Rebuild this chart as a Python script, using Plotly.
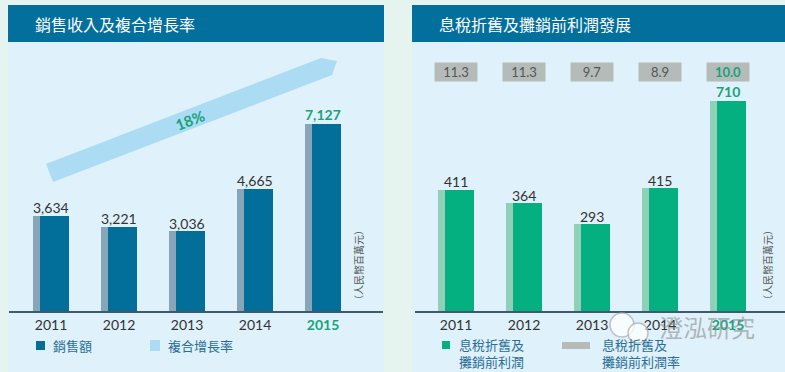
import plotly.graph_objects as go

years = ["2011", "2012", "2013", "2014", "2015"]
sales = [3634, 3221, 3036, 4665, 7127]
ebitda = [411, 364, 293, 415, 710]
ebitda_margin = [11.3, 11.3, 9.7, 8.9, 10.0]
cagr_label = "18%"

W, H = 785, 372
def px(x): return x / W
def py(y): return 1 - y / H

MINT = "#e6f4ef"
PANEL = "#dff1fa"
HEADER = "#036f9c"
BLUE = "#026e9a"
BLUE_SH = "#88a6b9"
GREEN = "#04b07f"
GREEN_SH = "#8fd0b9"
GTEXT = "#19a27b"
GRAYBOX = "#b4bbb8"
AXIS = "#3f5a6e"
LEG = "#2a6f97"
FONT = "Lato, Noto Sans CJK TC, sans-serif"
CJK = "Noto Sans CJK TC, sans-serif"

idx = list(range(len(years)))
ticktext = [y if i < len(years) - 1 else f"<b><span style='color:{GTEXT}'>{y}</span></b>" for i, y in enumerate(years)]

fig = go.Figure()
fig.add_bar(x=idx, y=sales, width=36/68, offset=-18/68, marker=dict(color=BLUE_SH, line_width=0),
            xaxis="x", yaxis="y", showlegend=False, hoverinfo="skip")
fig.add_bar(x=idx, y=sales, width=29/68, offset=-11/68, marker=dict(color=BLUE, line_width=0),
            xaxis="x", yaxis="y", showlegend=False)
fig.add_bar(x=idx, y=ebitda, width=36/68, offset=-18/68, marker=dict(color=GREEN_SH, line_width=0),
            xaxis="x2", yaxis="y2", showlegend=False, hoverinfo="skip")
fig.add_bar(x=idx, y=ebitda, width=29/68, offset=-11/68, marker=dict(color=GREEN, line_width=0),
            xaxis="x2", yaxis="y2", showlegend=False)

ydom = [py(311), py(55)]
axis_common = dict(type="linear", showgrid=False, zeroline=False, showline=True, linecolor=AXIS,
                   linewidth=2, tickvals=idx, ticktext=ticktext, ticks="",
                   tickfont=dict(family=FONT, size=14, color="#333"), fixedrange=True)
fig.update_layout(
    width=W, height=H, margin=dict(l=0, r=0, t=0, b=0),
    paper_bgcolor=MINT, plot_bgcolor="rgba(0,0,0,0)", barmode="overlay", bargap=0,
    xaxis=dict(domain=[px(9), px(383)], range=[(9-51)/68, (383-51)/68], anchor="y", **axis_common),
    xaxis2=dict(domain=[px(415), px(785)], range=[(415-456)/68, (785-456)/68], anchor="y2", **axis_common),
    yaxis=dict(domain=ydom, range=[0, 256/0.0262], visible=False, fixedrange=True),
    yaxis2=dict(domain=ydom, range=[0, 256/0.2955], visible=False, anchor="x2", fixedrange=True),
)

shapes = []
shapes.append(dict(type="rect", xref="paper", yref="paper", x0=px(8), x1=px(384), y0=py(372), y1=py(5),
                   fillcolor=PANEL, line_width=0, layer="below"))
shapes.append(dict(type="rect", xref="paper", yref="paper", x0=px(412), x1=px(785), y0=py(372), y1=py(5),
                   fillcolor=PANEL, line_width=0, layer="below"))
for a, b in [(8, 384), (412, 785)]:
    shapes.append(dict(type="rect", xref="paper", yref="paper", x0=px(a), x1=px(b), y0=py(42), y1=py(5),
                       fillcolor=HEADER, line_width=0, layer="below"))
pts = [(46, 164), (321, 58), (337, 61), (332, 75), (53, 182)]
path = "M " + " L ".join(f"{px(x):.5f},{py(y):.5f}" for x, y in pts) + " Z"
shapes.append(dict(type="path", xref="paper", yref="paper", path=path, fillcolor="#acdcf4",
                   line_width=0, layer="below"))
shapes.append(dict(type="rect", xref="paper", yref="paper", x0=px(36), x1=px(45), y0=py(350), y1=py(341),
                   fillcolor=BLUE, line_width=0))
shapes.append(dict(type="rect", xref="paper", yref="paper", x0=px(150), x1=px(160), y0=py(351), y1=py(340),
                   fillcolor="#acdcf4", line_width=0))
shapes.append(dict(type="rect", xref="paper", yref="paper", x0=px(442), x1=px(450), y0=py(349), y1=py(341),
                   fillcolor=GREEN, line_width=0))
shapes.append(dict(type="rect", xref="paper", yref="paper", x0=px(562), x1=px(590), y0=py(349), y1=py(342),
                   fillcolor=GRAYBOX, line_width=0))
for cx, cy, r in [(622, 325, 12), (638, 333, 10)]:
    shapes.append(dict(type="circle", xref="paper", yref="paper", x0=px(cx-r), x1=px(cx+r),
                       y0=py(cy+r), y1=py(cy-r), fillcolor="rgba(255,255,255,0.75)",
                       line=dict(color="rgba(170,170,170,0.7)", width=1.5)))
fig.update_layout(shapes=shapes)

def pann(text, x, y, size, color, family=CJK, xanchor="center", yanchor="middle", **kw):
    return dict(text=text, x=px(x), y=py(y), xref="paper", yref="paper", showarrow=False,
                xanchor=xanchor, yanchor=yanchor, font=dict(family=family, size=size, color=color), **kw)

ann = []
ann.append(pann("銷售收入及複合增長率", 33, 24, 16, "white", xanchor="left"))
ann.append(pann("息稅折舊及攤銷前利潤發展", 437, 24, 16, "white", xanchor="left"))
for i, v in enumerate(sales):
    last = i == len(sales) - 1
    ann.append(dict(x=i, y=v, xref="x", yref="y", text=(f"<b>{v:,}</b>" if last else f"{v:,}"),
                    showarrow=False, xanchor="center", yanchor="middle", yshift=10 if last else 8,
                    font=dict(family=FONT, size=14, color=GTEXT if last else "#333")))
for i, v in enumerate(ebitda):
    last = i == len(ebitda) - 1
    ann.append(dict(x=i, y=v, xref="x2", yref="y2", text=(f"<b>{v}</b>" if last else f"{v}"),
                    showarrow=False, xanchor="center", yanchor="middle", yshift=10 if last else 8,
                    font=dict(family=FONT, size=14, color=GTEXT if last else "#333")))
for i, m in enumerate(ebitda_margin):
    last = i == len(ebitda_margin) - 1
    ann.append(dict(x=i, y=py(72), xref="x2", yref="paper", text=(f"<b>{m:.1f}</b>" if last else f"{m:.1f}"),
                    showarrow=False, width=42, height=18, bgcolor=GRAYBOX, borderpad=0,
                    xanchor="center", yanchor="middle",
                    font=dict(family=FONT, size=13, color=GTEXT if last else "#555")))
ann.append(pann(f"<b>{cagr_label}</b>", 190, 120, 15, GTEXT, family=FONT, textangle=-21))
for ux in (358, 767):
    ann.append(pann("（人民幣百萬元）", ux, 265, 10, "#555", textangle=-90))
ann.append(pann("銷售額", 51, 345, 13, LEG, xanchor="left"))
ann.append(pann("複合增長率", 166, 345, 13, LEG, xanchor="left"))
ann.append(pann("息稅折舊及<br>攤銷前利潤", 457, 353, 13, LEG, xanchor="left", align="left"))
ann.append(pann("息稅折舊及<br>攤銷前利潤率", 600, 353, 13, LEG, xanchor="left", align="left"))
ann.append(pann("澄泓研究", 707, 326, 24, "rgba(140,140,140,0.6)"))
fig.update_layout(annotations=ann)

fig.write_html("out.html", config={"displayModeBar": False},
               post_script="document.body.style.margin='0';document.body.style.overflow='hidden';")
